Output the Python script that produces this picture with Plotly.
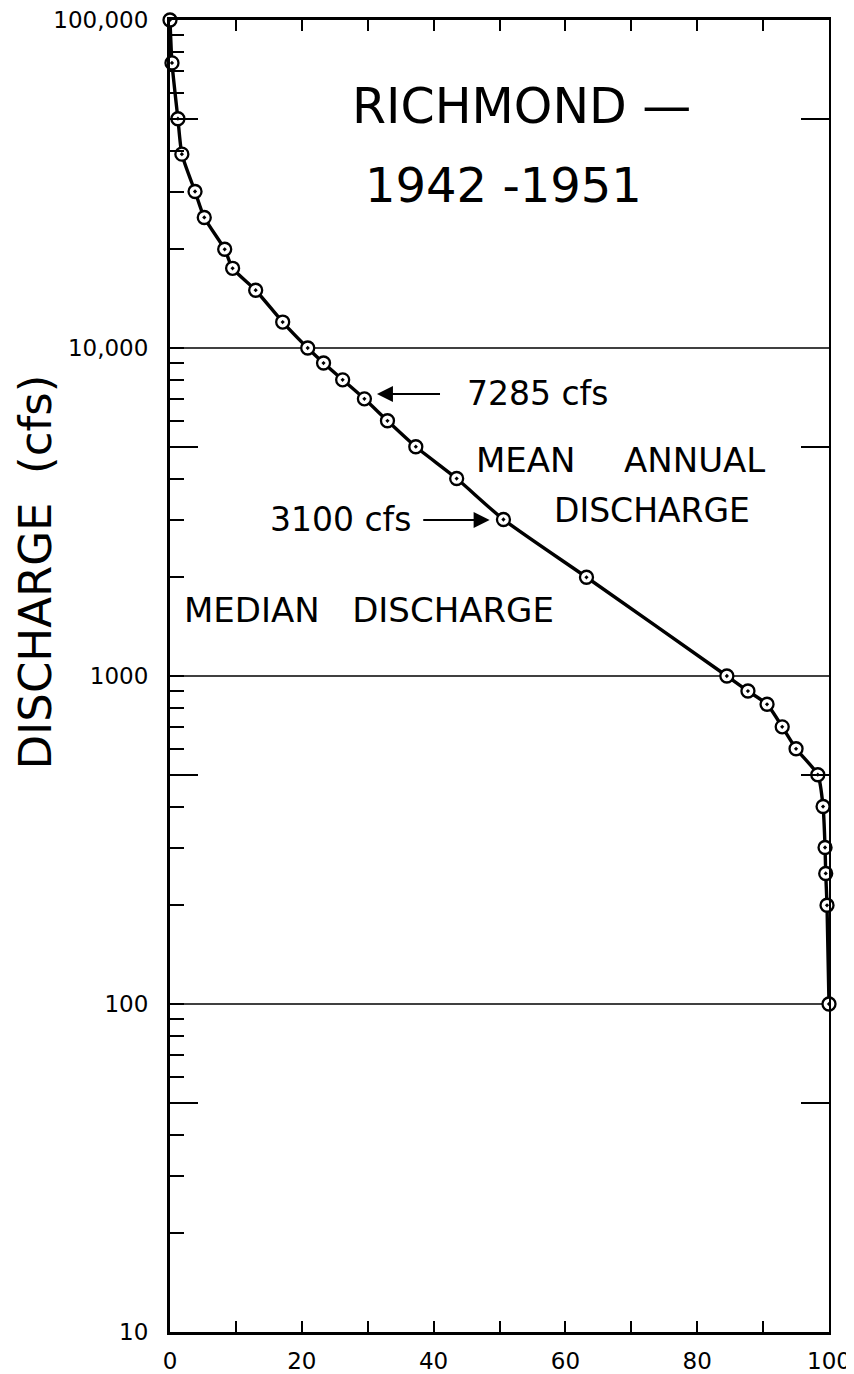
import math

import plotly.graph_objects as go

# duration curve points
pct_time = [0, 0.3, 1.2, 1.8, 3.8, 5.2, 8.3, 9.5, 13.0, 17.1, 20.9, 23.3, 26.2, 29.5,
            33.0, 37.3, 43.5, 50.6, 63.2, 84.5, 87.7, 90.6, 92.9, 95.0, 98.3, 99.1,
            99.4, 99.5, 99.7, 100]
discharge = [100000, 74000, 50000, 39000, 30000, 25000, 20000, 17500, 15000, 12000,
             10000, 9000, 8000, 7000, 6000, 5000, 4000, 3000, 2000, 1000, 900, 820,
             700, 600, 500, 400, 300, 250, 200, 100]

x_ticks = list(range(0, 101, 10))
x_labels = [str(v) if v % 20 == 0 else "" for v in x_ticks]
y_ticks = [10, 100, 1000, 10000, 100000]
y_labels = ["10", "100", "1000", "10,000", "100,000"]
half_ticks = [50, 500, 5000, 50000]
grid_values = [100, 1000, 10000]

mean_cfs = 7285
median_cfs = 3100

FONT = "DejaVu Sans"

fig = go.Figure()
fig.add_trace(go.Scatter(
    x=pct_time, y=discharge, mode='lines+markers',
    line=dict(color='black', width=3.4, shape='spline', smoothing=0.6),
    marker=dict(symbol='circle-dot', size=13, color='white',
                line=dict(color='black', width=2.3)),
    cliponaxis=False, showlegend=False,
))
# empty traces so the extra tick axes get drawn
fig.add_trace(go.Scatter(x=[None], y=[None], yaxis='y2', showlegend=False))
fig.add_trace(go.Scatter(x=[None], y=[None], yaxis='y3', showlegend=False))

for g in grid_values:
    fig.add_shape(type='line', xref='paper', x0=0, x1=1, yref='y', y0=g, y1=g,
                  line=dict(color='black', width=1.5), layer='below')

# page body has an 8px margin, so the figure is a bit smaller than the window
fig.update_layout(
    template='none',
    width=846, height=1366,
    margin=dict(l=162, r=25, t=12, b=42),
    paper_bgcolor='white', plot_bgcolor='white',
    font=dict(family=FONT, color='black'),
    xaxis=dict(
        range=[0, 100], tickmode='array', tickvals=x_ticks, ticktext=x_labels,
        ticks='inside', ticklen=11, tickwidth=2, tickcolor='black',
        showline=True, linewidth=3, linecolor='black', mirror='ticks',
        showgrid=False, zeroline=False, tickfont=dict(size=23), automargin=False,
        ticklabelstandoff=6, ticklabeloverflow='allow',
    ),
    yaxis=dict(
        type='log', range=[1, 5], tickmode='array', tickvals=y_ticks, ticktext=y_labels,
        ticks='inside', ticklen=4, tickwidth=2, tickcolor='black',
        showline=True, linewidth=3, linecolor='black',
        showgrid=False, zeroline=False, tickfont=dict(size=23), automargin=False,
        ticklabelstandoff=14, ticklabeloverflow='allow',
        minor=dict(ticks='inside', ticklen=14, dtick='D1', tickwidth=1.5,
                   tickcolor='black', showgrid=False),
    ),
    yaxis2=dict(
        type='log', range=[1, 5], overlaying='y', side='right', anchor='x',
        tickmode='array', tickvals=half_ticks, showticklabels=False,
        ticks='inside', ticklen=28, tickwidth=1.5, tickcolor='black',
        showline=True, linewidth=2, linecolor='black', showgrid=False,
        zeroline=False, automargin=False,
    ),
    # long ticks at the 5s on the left side
    yaxis3=dict(
        type='log', range=[1, 5], overlaying='y', side='left', anchor='x',
        tickmode='array', tickvals=half_ticks, showticklabels=False,
        ticks='inside', ticklen=28, tickwidth=1.5, tickcolor='black',
        showline=False, showgrid=False, zeroline=False, automargin=False,
    ),
)

texts = [
    dict(text="RICHMOND —", x=53.3, y=54500, xanchor='center', size=49),
    dict(text="1942 -1951", x=50.6, y=31400, xanchor='center', size=48),
    dict(text=f"{mean_cfs} cfs", x=44.7, y=7241, xanchor='left', size=33),
    dict(text="MEAN", x=46.2, y=4540, xanchor='left', size=34),
    dict(text="ANNUAL", x=68.6, y=4540, xanchor='left', size=34),
    dict(text="DISCHARGE", x=57.9, y=3196, xanchor='left', size=33),
    dict(text=f"{median_cfs} cfs", x=14.85, y=2990, xanchor='left', size=33),
    dict(text="MEDIAN\u00a0\u00a0 DISCHARGE", x=1.8, y=1585, xanchor='left', size=34),
]
for t in texts:
    # annotations on a log axis take log10 positions
    fig.add_annotation(text=t['text'], x=t['x'], y=math.log10(t['y']), xref='x', yref='y',
                       xanchor=t['xanchor'], yanchor='middle', showarrow=False,
                       font=dict(family=FONT, size=t['size'], color='black'))

# arrows pointing at the curve
arrows = [
    dict(tip=31.4, tail=41.2, y=7241),
    dict(tip=48.5, tail=38.2, y=2990),
]
for a in arrows:
    ly = math.log10(a['y'])
    fig.add_annotation(text="", x=a['tip'], y=ly, ax=a['tail'], ay=ly,
                       xref='x', yref='y', axref='x', ayref='y', showarrow=True,
                       arrowhead=2, arrowsize=1.6, arrowwidth=2, arrowcolor='black',
                       standoff=0)

fig.add_annotation(text="DISCHARGE\u00a0\u00a0(cfs)", xref='paper', yref='paper',
                   x=-0.2045, y=0.579, textangle=-90, showarrow=False,
                   xanchor='center', yanchor='middle',
                   font=dict(family=FONT, size=45, color='black'))

fig.write_html("out.html")
